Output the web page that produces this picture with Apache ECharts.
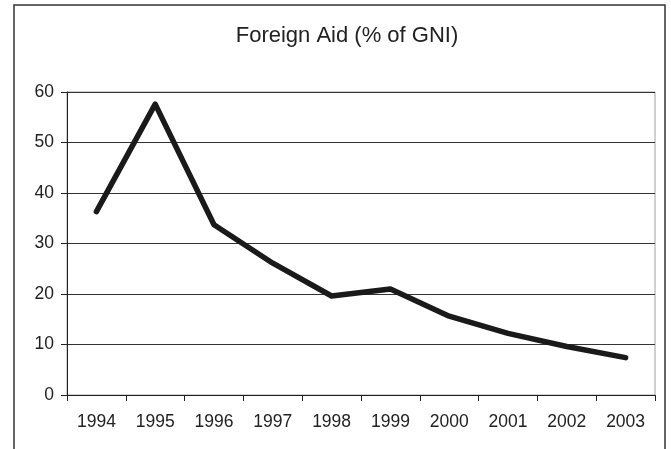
<!DOCTYPE html>
<html>
<head>
<meta charset="utf-8">
<script src="https://cdn.jsdelivr.net/npm/echarts@6/dist/echarts.min.js"></script>
<style>
  html, body { margin: 0; padding: 0; background: #fff; }
  #chart { width: 671px; height: 449px; }
</style>
</head>
<body>
<div id="chart"></div>
<script>
// Foreign aid as a share of gross national income, by year
const years = ['1994', '1995', '1996', '1997', '1998', '1999', '2000', '2001', '2002', '2003'];
const aidPctGNI = [36.3, 57.6, 33.7, 26.1, 19.6, 21.0, 15.6, 12.2, 9.6, 7.4];
const yTicks = { min: 0, max: 60, interval: 10 };

const chart = echarts.init(document.getElementById('chart'), null, { renderer: 'canvas' });
const font = 'Liberation Sans, Arial, Helvetica, sans-serif';

chart.setOption({
  animation: false,
  backgroundColor: '#ffffff',
  title: {
    text: 'Foreign Aid (% of GNI)',
    left: 342,
    textAlign: 'center',
    top: 20,
    textStyle: { fontFamily: font, fontSize: 22, fontWeight: 'normal', color: '#222' }
  },
  // outer chart frame (runs off the bottom edge)
  graphic: [{
    type: 'rect',
    shape: { x: 14, y: 5, width: 651, height: 470 },
    style: { fill: 'none', stroke: '#333', lineWidth: 1.5 },
    silent: true,
    z: 10
  }],
  grid: {
    left: 67, right: 16, top: 92, bottom: 54,
    show: true, borderColor: '#a0a0a0', borderWidth: 1, backgroundColor: 'transparent'
  },
  xAxis: {
    type: 'category',
    data: years,
    boundaryGap: true,
    axisLine: { show: true, lineStyle: { color: '#222', width: 1 } },
    axisTick: { show: true, length: 6, lineStyle: { color: '#222' } },
    axisLabel: { fontFamily: font, fontSize: 17.5, color: '#222', margin: 18 },
    splitLine: { show: false }
  },
  yAxis: {
    type: 'value',
    min: yTicks.min, max: yTicks.max, interval: yTicks.interval,
    axisLine: { show: true, lineStyle: { color: '#222', width: 1 } },
    axisTick: { show: true, length: 6, lineStyle: { color: '#222' } },
    axisLabel: { fontFamily: font, fontSize: 17.5, color: '#222', margin: 13 },
    splitLine: { show: true, lineStyle: { color: '#333', width: 1 } }
  },
  series: [{
    type: 'line',
    data: aidPctGNI,
    showSymbol: false,
    symbol: 'none',
    lineStyle: { color: '#1a1a1a', width: 5.5, join: 'round', cap: 'round' },
    z: 5
  }]
});
</script>
</body>
</html>
